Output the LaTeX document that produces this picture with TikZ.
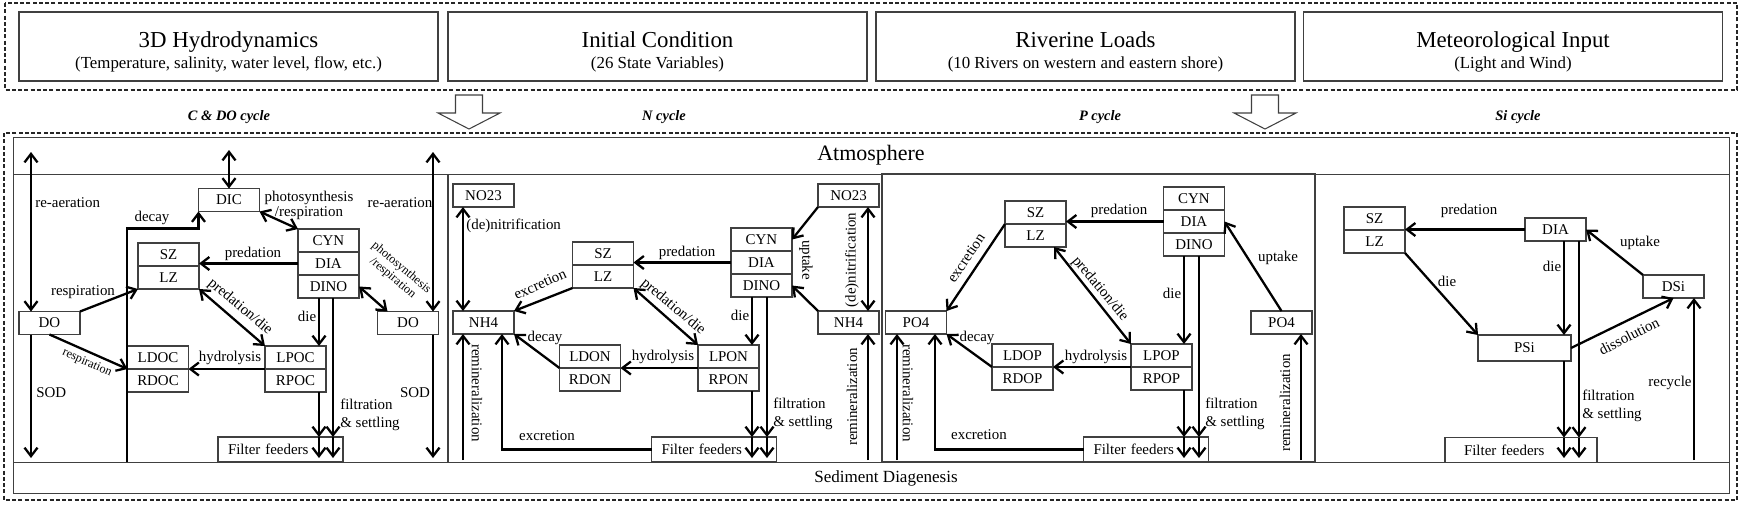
\documentclass[tikz,border=0pt]{standalone}
\usepackage{fontspec}
\setmainfont{Liberation Serif}
\usetikzlibrary{arrows.meta,positioning,calc}

\newcommand{\inflow}[1]{\draw[draw=black!75, line width=0.6pt, fill=white] (#1-13.5,95) -- (#1+13.5,95) -- (#1+13.5,113) -- (#1+31,113) -- (#1,129) -- (#1-31,113) -- (#1-13.5,113) -- cycle;}

\begin{document}
\begin{tikzpicture}[x=0.2mm, y=-0.2mm,
  box/.style = {draw=black!75, line width=0.6pt, minimum width=12.2mm, minimum height=4.6mm, inner sep=0pt, outer sep=0pt, font=\fontsize{8.5}{9.5}\selectfont},
  feeder/.style = {box, text width=21mm, inner xsep=2mm, align=left, minimum height=5mm},
  top/.style = {draw=black!75, line width=0.6pt, minimum width=83.8mm, minimum height=13.8mm, inner sep=0pt},
  head/.style = {align=center, inner sep=0pt, font=\fontsize{9.6}{12}\selectfont},
  cyc/.style = {inner sep=0pt, font=\fontsize{8.2}{9}\selectfont\bfseries\itshape},
  lbl/.style = {inner sep=0pt, font=\fontsize{8.5}{10}\selectfont},
  tiny/.style = {inner sep=0pt, align=center, font=\fontsize{7}{7.5}\selectfont},
  flow/.style = {-{Straight Barb[length=1.7mm,width=2.6mm]}, line width=1.3pt},
  both/.style = {{Straight Barb[length=1.7mm,width=2.6mm]}-{Straight Barb[length=1.7mm,width=2.6mm]}, line width=1.3pt},
  frame/.style = {draw=black!75, line width=0.5pt},
  fence/.style = {draw=black!85, line width=0.8pt, dash pattern=on 0.8mm off 0.45mm}]

\useasboundingbox (0,0) rectangle (1741,508);

\draw[fence] (5,3) rectangle (1737,90);
\node[top] (hydro) at (228.5,46.5) {};
\node[top] (init) at (657.5,46.5) {};
\node[top] (river) at (1085.5,46.5) {};
\node[top] (meteo) at (1513,46.5) {};
\node[head] (hydrot) at ($(hydro)+(0,5)$) {{\fontsize{13}{12}\selectfont 3D Hydrodynamics}\\(Temperature, salinity, water level, flow, etc.)};
\node[head] (initt) at ($(init)+(0,5)$) {{\fontsize{13}{12}\selectfont Initial Condition}\\(26 State Variables)};
\node[head] (rivert) at ($(river)+(0,5)$) {{\fontsize{13}{12}\selectfont Riverine Loads}\\(10 Rivers on western and eastern shore)};
\node[head] (meteot) at ($(meteo)+(0,5)$) {{\fontsize{13}{12}\selectfont Meteorological Input}\\(Light and Wind)};

\inflow{469}
\inflow{1265}
\node[cyc] (cdo) at (229,117) {C \& DO cycle};
\node[cyc] (ncyc) at (664,117) {N cycle};
\node[cyc] (pcyc) at (1100,117) {P cycle};
\node[cyc] (sicyc) at (1518,117) {Si cycle};

\draw[fence] (4,133) rectangle (1737,500);
\draw[frame] (13,137) rectangle (1729,493);
\draw[frame] (13,174) -- (1729,174);
\draw[frame] (13,462) -- (1729,462);
\draw[frame, line width=0.8pt] (448,174) -- (448,462);
\draw[frame, line width=1.1pt] (882,174) rectangle (1315,462);
\node[font=\fontsize{12.5}{13}\selectfont, inner sep=0pt] (atm) at (871,155) {Atmosphere};
\node[font=\fontsize{9.7}{10}\selectfont, inner sep=0pt] (sed) at (886,478) {Sediment Diagenesis};

\node[box] (dic) at (229,200) {DIC};
\node[box] (cyn1) at (328.5,240.5) {CYN};
\node[box, below=0pt of cyn1] (dia1) {DIA};
\node[box, below=0pt of dia1] (dino1) {DINO};
\node[box] (sz1) at (168.5,254.5) {SZ};
\node[box, below=0pt of sz1] (lz1) {LZ};
\node[box] (do1) at (49.5,323) {DO};
\node[box] (do2) at (408,323) {DO};
\node[box] (ldoc) at (158,357.5) {LDOC};
\node[box, below=0pt of ldoc] (rdoc) {RDOC};
\node[box] (lpoc) at (295.5,357.5) {LPOC};
\node[box, below=0pt of lpoc] (rpoc) {RPOC};
\node[feeder] (ff1) at (280.5,449.5) {Filter feeders};
\coordinate (atmL) at (31,152);
\coordinate (sedL) at (31,458);
\coordinate (atmC) at (229,150);
\coordinate (foot1) at (127,462);
\coordinate (atmR) at (433,152);
\coordinate (sedR) at (433,458);
\coordinate (fa) at (319,458);
\coordinate (fb) at (333,458);
\draw[both] (atmL) -- (atmL |- do1.north);
\draw[flow] (atmL |- do1.south) -- (sedL);
\draw[both] (atmC) -- (dic.north);
\draw[flow] (foot1) |- ($(dic.south west)+(0,17)$) -- (dic.south west);
\draw[both] (dic.south east) -- (cyn1.north west);
\draw[flow] (dia1.west) -- (dia1.west -| lz1.east);
\draw[flow] (do1.north east) -- (lz1.south west);
\draw[flow] (do1.south) -- (rdoc.north west);
\draw[both] (lz1.south east) -- (lpoc.north west);
\draw[flow] (lpoc.south west) -- (ldoc.south east);
\draw[flow] (dino1.south -| fa) -- (lpoc.north -| fa);
\draw[flow] (rpoc.south -| fa) -- (ff1.north -| fa);
\draw[flow] (ff1.north -| fa) -- (fa);
\draw[flow] (dino1.south -| fb) -- (ff1.north -| fb);
\draw[flow] (ff1.north -| fb) -- (fb);
\draw[both] (dino1.east) -- ($(do2.north west)+(10,0)$);
\draw[both] (atmR) -- (atmR |- do2.north);
\draw[flow] (atmR |- do2.south) -- (sedR);
\node[lbl, anchor=west] (ra1) at (35,203) {re-aeration};
\node[lbl, anchor=west] (sod1) at (36,393) {SOD};
\node[lbl] (dec1) at (152,218) {decay};
\node[lbl, align=center] (ps1) at (309,205) {photosynthesis\\[-1.5pt]/respiration};
\node[lbl] (pr1) at (253,254) {predation};
\node[lbl] (rs1) at (83,292) {respiration};
\node[tiny, rotate=-24] (rs2) at (87,363) {respiration};
\node[lbl, rotate=-40] (pd1) at (240,307) {predation/die};
\node[lbl] (hy1) at (230,358) {hydrolysis};
\node[lbl] (die1) at (307,316) {die};
\node[lbl, anchor=west, align=left] (fs1) at (340,415) {filtration\\\& settling};
\node[tiny, rotate=-40] (ps2) at (397,273) {photosynthesis\\/respiration};
\node[lbl] (ra2) at (400,203) {re-aeration};
\node[lbl] (sod2) at (415,393) {SOD};

\node[box] (no23a) at (483.5,195.5) {NO23};
\node[box] (nh4a) at (483.5,322.5) {NH4};
\node[box] (sz2) at (603,253.5) {SZ};
\node[box, below=0pt of sz2] (lz2) {LZ};
\node[box] (cyn2) at (761.5,239.5) {CYN};
\node[box, below=0pt of cyn2] (dia2) {DIA};
\node[box, below=0pt of dia2] (dino2) {DINO};
\node[box] (ldon) at (590,356.5) {LDON};
\node[box, below=0pt of ldon] (rdon) {RDON};
\node[box] (lpon) at (728.5,356.5) {LPON};
\node[box, below=0pt of lpon] (rpon) {RPON};
\node[feeder] (ff2) at (714,449.5) {Filter feeders};
\node[box] (no23b) at (848.5,195.5) {NO23};
\node[box] (nh4b) at (848.5,322.5) {NH4};
\coordinate (na) at (463,460);
\coordinate (nb) at (502,449.5);
\coordinate (nc) at (752,458);
\coordinate (nd) at (767,458);
\coordinate (ne) at (868,460);
\draw[both] (no23a.south -| na) -- (nh4a.north -| na);
\draw[flow] (na) -- (nh4a.south -| na);
\draw[flow] (ff2.west) -- (nb) -- (nb |- nh4a.south);
\draw[flow] (lz2.south west) -- (nh4a.north east);
\draw[flow] (dia2.west) -- (dia2.west -| lz2.east);
\draw[both] (lz2.south east) -- (lpon.north west);
\draw[flow] (dino2.south -| nc) -- (lpon.north -| nc);
\draw[flow] (rpon.south -| nc) -- (ff2.north -| nc);
\draw[flow] (ff2.north -| nc) -- (nc);
\draw[flow] (dino2.south -| nd) -- (ff2.north -| nd);
\draw[flow] (ff2.north -| nd) -- (nd);
\draw[flow] (lpon.south west) -- (ldon.south east);
\draw[flow] (ldon.south west) -- (nh4a.south east);
\draw[flow] (no23b.south west) -- (cyn2.east);
\draw[flow] (nh4b.north west) -- (dino2.east);
\draw[both] (no23b.south -| ne) -- (nh4b.north -| ne);
\draw[flow] (ne) -- (nh4b.south -| ne);
\node[lbl, anchor=west] (dn1) at (466,226) {(de)nitrification};
\node[lbl, rotate=-90] (rm1) at (477,393) {remineralization};
\node[lbl] (ex1) at (547,436) {excretion};
\node[lbl, rotate=24] (ex2) at (540,284) {excretion};
\node[lbl] (pr2) at (687,253) {predation};
\node[lbl, rotate=-40] (pd2) at (673,307) {predation/die};
\node[lbl] (die2) at (740,315) {die};
\node[lbl] (hy2) at (663,357) {hydrolysis};
\node[lbl] (dec2) at (545,338) {decay};
\node[lbl, anchor=west, align=left] (fs2) at (773,414) {filtration\\\& settling};
\node[lbl, rotate=-90] (up2) at (806,260) {uptake};
\node[lbl, rotate=90] (dn2) at (852,260) {(de)nitrification};
\node[lbl, rotate=90] (rm2) at (852,397) {remineralization};

\node[box] (sz3) at (1035.5,212.5) {SZ};
\node[box, below=0pt of sz3] (lz3) {LZ};
\node[box] (cyn3) at (1194,198.5) {CYN};
\node[box, below=0pt of cyn3] (dia3) {DIA};
\node[box, below=0pt of dia3] (dino3) {DINO};
\node[box] (po4a) at (916,322.5) {PO4};
\node[box] (ldop) at (1022.5,355.5) {LDOP};
\node[box, below=0pt of ldop] (rdop) {RDOP};
\node[box] (lpop) at (1161.5,355.5) {LPOP};
\node[box, below=0pt of lpop] (rpop) {RPOP};
\node[feeder] (ff3) at (1146,449.5) {Filter feeders};
\node[box] (po4b) at (1281.5,322.5) {PO4};
\coordinate (pa) at (897,460);
\coordinate (pb) at (935,449.5);
\coordinate (pc) at (1184,458);
\coordinate (pd) at (1199,458);
\coordinate (pe) at (1301,460);
\draw[flow] (dia3.west) -- (dia3.west -| lz3.east);
\draw[flow] (lz3.north west) -- (po4a.north east);
\draw[both] ($(lz3.south east)+(-12,0)$) -- (lpop.north west);
\draw[flow] (dino3.south -| pc) -- (lpop.north -| pc);
\draw[flow] (rpop.south -| pc) -- (ff3.north -| pc);
\draw[flow] (ff3.north -| pc) -- (pc);
\draw[flow] (dino3.south -| pd) -- (ff3.north -| pd);
\draw[flow] (ff3.north -| pd) -- (pd);
\draw[flow] (lpop.south west) -- (ldop.south east);
\draw[flow] (ldop.south west) -- (po4a.south east);
\draw[flow] (ff3.west) -- (pb) -- (pb |- po4a.south);
\draw[flow] (pa) -- (po4a.south -| pa);
\draw[flow] (po4b.north) -- (dia3.east);
\draw[flow] (pe) -- (po4b.south -| pe);
\node[lbl] (pr3) at (1119,211) {predation};
\node[lbl, rotate=56] (ex3) at (966,258) {excretion};
\node[lbl, rotate=-50] (pd3) at (1100,289) {predation/die};
\node[lbl] (die3) at (1172,293) {die};
\node[lbl, anchor=west, align=left] (fs3) at (1205,414) {filtration\\\& settling};
\node[lbl] (hy3) at (1096,357) {hydrolysis};
\node[lbl] (dec3) at (977,338) {decay};
\node[lbl] (ex4) at (979,435) {excretion};
\node[lbl, rotate=-90] (rm3) at (908,393) {remineralization};
\node[lbl] (up3) at (1278,258) {uptake};
\node[lbl, rotate=90] (rm4) at (1285,403) {remineralization};

\node[box] (sz4) at (1374.5,218.5) {SZ};
\node[box, below=0pt of sz4] (lz4) {LZ};
\node[box] (dia4) at (1555.5,229.5) {DIA};
\node[box, minimum width=18.6mm, minimum height=5.2mm] (psi) at (1524.5,348) {PSi};
\node[box] (dsi) at (1673.5,286.5) {DSi};
\node[feeder, text width=22.8mm, inner xsep=3.8mm] (ff4) at (1521,450) {Filter feeders};
\coordinate (sa) at (1564,458);
\coordinate (sb) at (1579,458);
\coordinate (sc) at (1694,460);
\draw[flow] (dia4.west) -- (dia4.west -| lz4.east);
\draw[flow] (lz4.south east) -- (psi.north west);
\draw[flow] (dia4.south -| sa) -- (psi.north -| sa);
\draw[flow] (psi.south -| sa) -- (ff4.north -| sa);
\draw[flow] (ff4.north -| sa) -- (sa);
\draw[flow] (dia4.south -| sb) -- (ff4.north -| sb);
\draw[flow] (ff4.north -| sb) -- (sb);
\draw[flow] (dsi.north west) -- (dia4.east);
\draw[flow] (psi.east) -- (dsi.south);
\draw[flow] (sc) -- (dsi.south -| sc);
\node[lbl] (pr4) at (1469,211) {predation};
\node[lbl] (die4) at (1447,281) {die};
\node[lbl] (die5) at (1552,266) {die};
\node[lbl, anchor=west, align=left] (fs4) at (1582,406) {filtration\\\& settling};
\node[lbl] (up4) at (1640,243) {uptake};
\node[lbl, rotate=27] (ds1) at (1629,336) {dissolution};
\node[lbl] (rc1) at (1670,383) {recycle};
\end{tikzpicture}
\end{document}
